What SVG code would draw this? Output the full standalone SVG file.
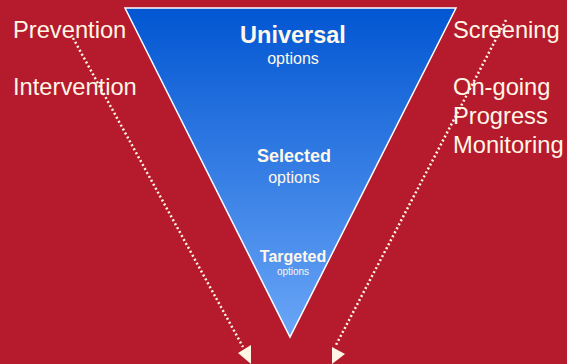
<svg xmlns="http://www.w3.org/2000/svg" width="567" height="364" viewBox="0 0 567 364">
<defs>
<linearGradient id="g" x1="0" y1="0" x2="0" y2="1">
<stop offset="0" stop-color="#0256D2"/>
<stop offset="1" stop-color="#6AA6F7"/>
</linearGradient>
<style>
.lbl{font-family:"Liberation Sans",Arial,sans-serif;font-size:23.7px;fill:#FFF6E6}
.t{font-family:"Liberation Sans",Arial,sans-serif;fill:#FFF8EA;text-anchor:middle}
.b{font-weight:bold}
.dot{stroke:#FFF6E6;stroke-width:2.5;stroke-dasharray:2 2.5;fill:none}
.ah{fill:#FFF6E6}
</style>
</defs>
<rect width="567" height="364" fill="#B51B2C"/>
<g id="triangle">
<polygon points="125,8 456,8 290,337" fill="url(#g)" stroke="#FFFFFF" stroke-width="1.5"/>
</g>
<g id="universal">
<text class="t b" x="293" y="43" font-size="23.5">Universal</text>
<text class="t" x="293" y="64" font-size="16">options</text>
</g>
<g id="selected">
<text class="t b" x="294" y="162" font-size="18">Selected</text>
<text class="t" x="294" y="183" font-size="16">options</text>
</g>
<g id="targeted">
<text class="t b" x="293" y="262" font-size="16">Targeted</text>
<text class="t" x="293" y="275" font-size="10">options</text>
</g>
<g id="left-labels">
<text class="lbl" x="13" y="38">Prevention</text>
<text class="lbl" x="13" y="95">Intervention</text>
</g>
<g id="right-labels">
<text class="lbl" x="453" y="38">Screening</text>
<text class="lbl" x="453" y="95">On-going</text>
<text class="lbl" x="453" y="124">Progress</text>
<text class="lbl" x="453" y="153">Monitoring</text>
</g>
<g id="connectors">
<line class="dot" x1="73" y1="38" x2="243" y2="347"/>
<polygon class="ah" points="238,353 251,345 251,364"/>
<line class="dot" x1="506" y1="20" x2="336" y2="345"/>
<polygon class="ah" points="332,347 345,354 332,364"/>
</g>
</svg>
